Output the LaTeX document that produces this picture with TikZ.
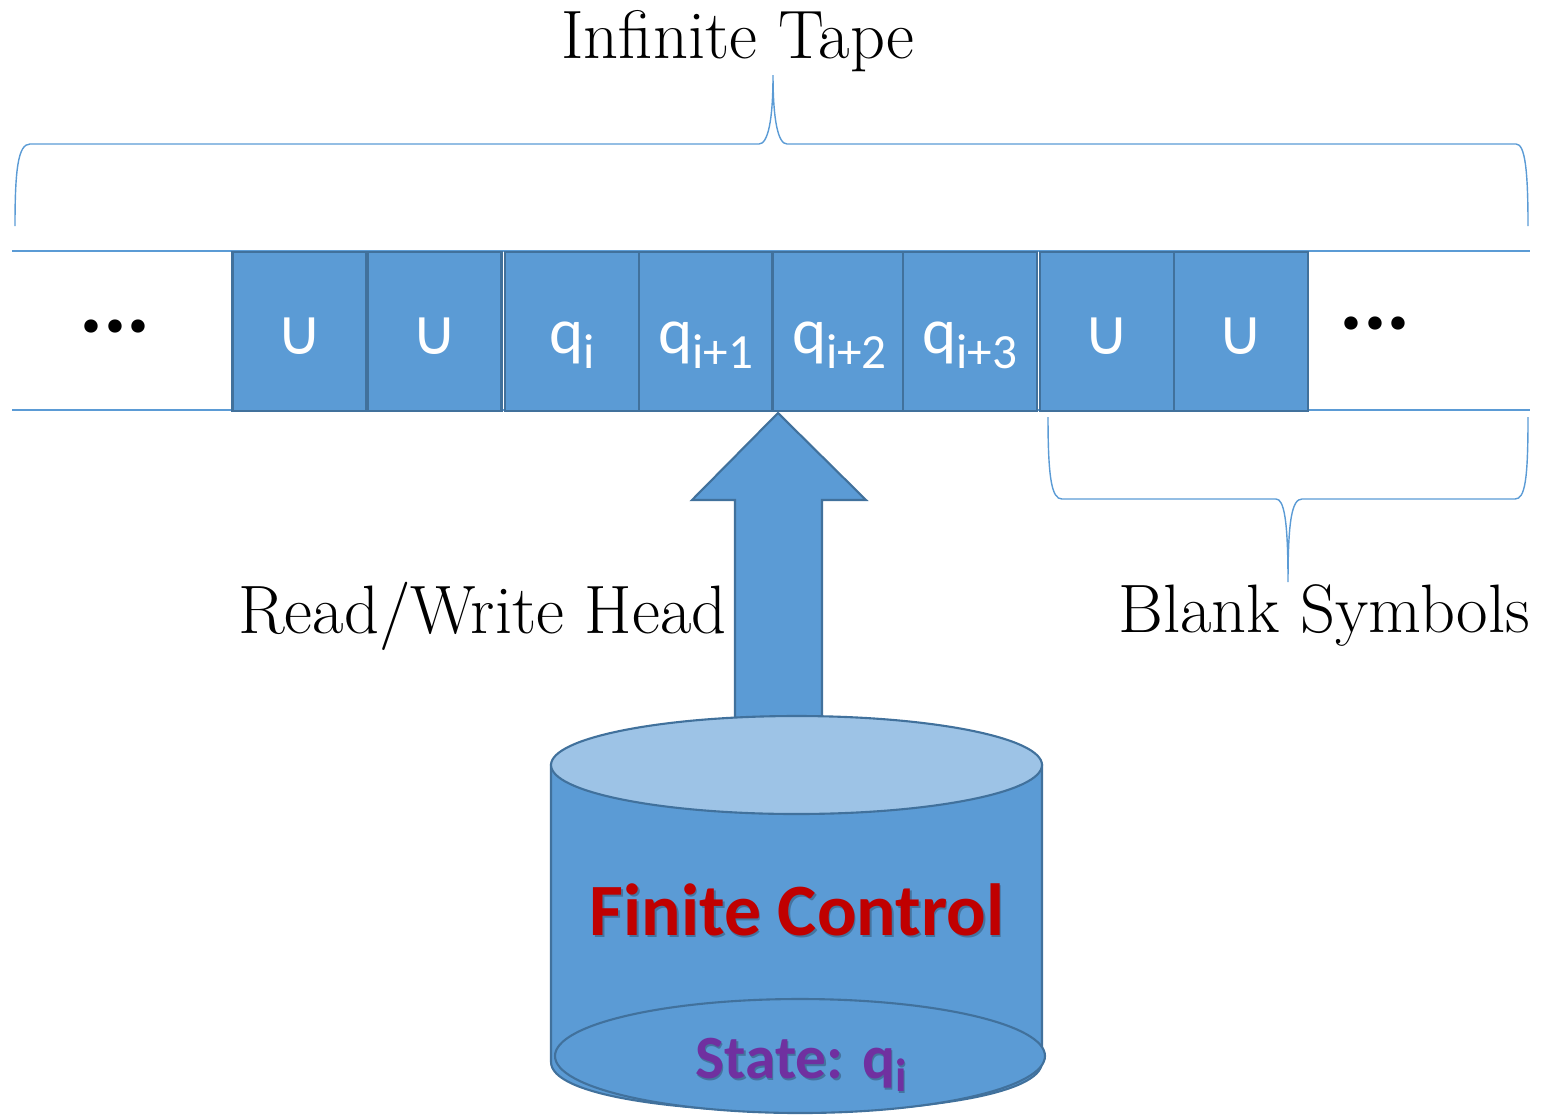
\documentclass[tikz,border=0pt]{standalone}
\usepackage{fontspec}
\newfontfamily\calfont{Carlito}
\newfontfamily\symfont{DejaVu Sans}
\definecolor{cellblue}{HTML}{5B9BD5}
\definecolor{celledge}{HTML}{41719C}
\definecolor{lidblue}{HTML}{9DC3E6}
\definecolor{ctrlred}{HTML}{C00000}
\definecolor{statepurple}{HTML}{7030A0}
% lowered subscript for the cell labels
\newcommand\cellsub[1]{\raisebox{-9pt}{\fontsize{28}{28}\selectfont #1}}
\newcommand\statesub[1]{\raisebox{-7.5pt}{\fontsize{26.5}{26.5}\selectfont #1}}
\tikzset{
  cellbox/.style={draw=celledge, fill=cellblue, line width=1.2pt,
    minimum width=2.68cm, minimum height=3.18cm, inner sep=0pt},
  celltext/.style={text=white, inner sep=0pt, font=\calfont\fontsize{37}{40}\selectfont},
  cuptext/.style={text=white, inner sep=0pt, font=\symfont\fontsize{36}{38}\selectfont},
  dotstext/.style={inner sep=0pt, font=\calfont\bfseries\fontsize{51}{51}\selectfont},
  serifcap/.style={inner sep=0pt, font=\fontsize{39}{46}\selectfont},
  tapeline/.style={draw=cellblue, line width=0.8pt},
  bracepath/.style={draw=cellblue, line width=0.8pt},
  blockshape/.style={draw=celledge, fill=cellblue, line width=1.2pt, line join=miter},
  shadowtext/.style={text=black, opacity=0.25, inner sep=0pt},
}
\begin{document}
\begin{tikzpicture}[x=0.02cm, y=-0.02cm]
\useasboundingbox (0,0) rectangle (1547,1116);

% tape borders
\coordinate (tl0) at (12,251);  \coordinate (tl1) at (1530,251);
\coordinate (bl0) at (12,410);  \coordinate (bl1) at (1530,410);
\path[tapeline] (tl0) -- (tl1);
\path[tapeline] (bl0) -- (bl1);

% tape cells
\node[cellbox] (c1) at (299.5,331.5) {};
\node[cellbox] (c2) at (434.5,331.5) {};
\node[cellbox] (c3) at (572,331.5) {};
\node[cellbox] (c4) at (706,331.5) {};
\node[cellbox] (c5) at (839.5,331.5) {};
\node[cellbox] (c6) at (970,331.5) {};
\node[cellbox] (c7) at (1107,331.5) {};
\node[cellbox] (c8) at (1241,331.5) {};

% cell symbols
\node[cuptext, anchor=base] (s1) at (299.5,354) {∪};
\node[cuptext, anchor=base] (s2) at (434.5,354) {∪};
\node[celltext, anchor=base] (s3) at (572,353) {q\cellsub{i}};
\node[celltext, anchor=base] (s4) at (706,353) {q\cellsub{i+1}};
\node[celltext, anchor=base] (s5) at (839.5,353) {q\cellsub{i+2}};
\node[celltext, anchor=base] (s6) at (970,353) {q\cellsub{i+3}};
\node[cuptext, anchor=base] (s7) at (1107,354) {∪};
\node[cuptext, anchor=base] (s8) at (1241,354) {∪};

% ellipsis at both ends of the tape
\node[dotstext] (dl) at (115,326) {...};
\node[dotstext] (dr) at (1375,323) {...};

% brace over the whole tape
\path[bracepath] (15,226) .. controls (15,170) and (18,144) .. (30,144)
  -- (759,144) .. controls (768,144) and (773,120) .. (773,75)
  .. controls (773,120) and (778,144) .. (787,144)
  -- (1516,144) .. controls (1525,144) and (1528,170) .. (1528,226);
\node[serifcap, anchor=base] (tape) at (738,58) {Infinite Tape};

% brace under the blank cells
\path[bracepath] (1048,417) .. controls (1048,480) and (1052,499) .. (1062,499)
  -- (1276,499) .. controls (1284,499) and (1288,520) .. (1288,582)
  .. controls (1288,520) and (1292,499) .. (1302,499)
  -- (1515,499) .. controls (1525,499) and (1528,480) .. (1528,417);
\node[serifcap, anchor=base west] (blank) at (1118,632) {Blank Symbols};

% read/write head arrow
\path[blockshape] (735,730) -- (735,500) -- (692,500) -- (778,413)
  -- (866,500) -- (822,500) -- (822,730) -- cycle;
\node[serifcap, anchor=base east] (head) at (727,633) {Read/Write Head};

% finite control cylinder
\path[blockshape] (551,765) -- (551,1062)
  .. controls (551,1128) and (1042,1128) .. (1042,1062)
  -- (1042,765) -- cycle;
\path[blockshape, fill=lidblue] (796.5,765) ellipse [x radius=245.5, y radius=49];
\path[blockshape] (800,1056) ellipse [x radius=245, y radius=57];

\node[shadowtext, anchor=base, font=\calfont\bfseries\fontsize{42}{44}\selectfont]
  (ctrlshadow) at (798.5,937) {Finite Control};
\node[inner sep=0pt, anchor=base, text=ctrlred, font=\calfont\bfseries\fontsize{42}{44}\selectfont]
  (ctrl) at (797,935) {Finite Control};

\node[shadowtext, anchor=base, font=\calfont\bfseries\fontsize{35}{37}\selectfont]
  (stateshadow) at (802.5,1080) {State: q\statesub{i}};
\node[inner sep=0pt, anchor=base, text=statepurple, font=\calfont\bfseries\fontsize{35}{37}\selectfont]
  (state) at (801,1078) {State: q\statesub{i}};
\end{tikzpicture}
\end{document}
